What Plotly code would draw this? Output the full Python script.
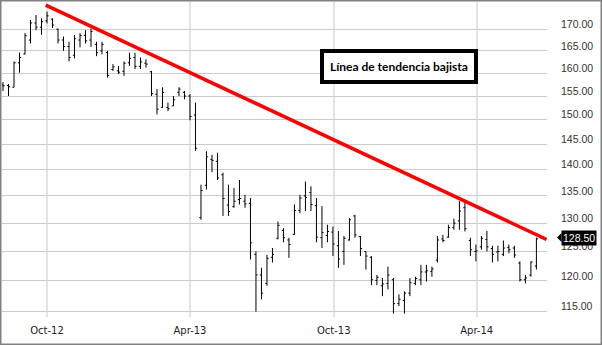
import numpy as np
import pandas as pd
import plotly.graph_objects as go

# Weekly bars (Mondays)
dates = pd.date_range("2012-08-06", periods=98, freq="7D")

opens = [157.4, 157.3, 156.9, 162.3, 164.3, 167.5, 171.5, 170.5, 172.0, 172.4,
         170.0, 167.5, 166.0, 164.0, 167.5, 168.6, 167.5, 166.5, 165.0, 164.6,
         160.8, 160.5, 160.4, 162.3, 163.5, 161.5, 162.2, 160.3, 155.4, 152.6,
         152.6, 152.9, 155.8, 155.8, 155.0, 151.0, 131.0, 137.0, 142.0, 141.6,
         139.0, 133.3, 133.0, 134.3, 134.0, 133.6, 124.5, 121.0, 119.6, 124.0,
         127.3, 128.7, 127.0, 128.0, 132.3, 135.0, 135.6, 133.2, 127.4, 127.8,
         128.4, 126.0, 125.0, 127.0, 131.3, 127.6, 125.0, 124.0, 120.1, 119.2,
         119.6, 120.2, 116.3, 116.8, 118.0, 119.6, 120.2, 121.5, 121.6, 123.5,
         127.2, 127.5, 129.2, 130.4, 132.8, 126.9, 125.0, 125.8, 127.1, 125.5,
         124.9, 124.5, 125.7, 125.6, 123.0, 120.2, 121.0, 122.5]
highs = [158.0, 157.6, 162.6, 164.6, 169.1, 172.2, 173.4, 172.6, 174.2, 172.6,
         170.2, 168.3, 167.1, 168.7, 169.1, 169.8, 170.2, 167.1, 167.1, 165.0,
         162.0, 161.6, 162.6, 164.6, 164.6, 163.5, 163.1, 160.5, 156.5, 156.9,
         153.6, 155.0, 156.9, 156.1, 155.4, 153.6, 137.1, 143.6, 142.9, 143.3,
         139.4, 137.1, 136.5, 138.0, 135.2, 134.6, 125.0, 122.2, 124.4, 125.6,
         130.3, 129.1, 127.4, 133.4, 135.2, 137.7, 136.8, 134.6, 133.1, 129.7,
         129.4, 128.6, 127.7, 130.9, 131.5, 127.7, 125.0, 124.2, 121.0, 120.5,
         122.4, 120.5, 117.8, 118.3, 120.5, 120.7, 122.7, 122.7, 122.4, 127.7,
         127.9, 129.7, 130.8, 134.0, 133.7, 127.4, 126.2, 127.7, 128.6, 126.0,
         126.0, 126.9, 126.2, 126.0, 123.3, 121.0, 123.3, 127.4]
lows = [156.1, 155.0, 156.9, 160.1, 164.2, 166.7, 169.8, 168.7, 171.4, 170.3,
        166.7, 165.0, 162.6, 163.3, 165.8, 166.7, 165.9, 163.8, 164.2, 159.0,
        160.5, 159.8, 159.4, 161.6, 160.9, 160.9, 161.2, 155.0, 151.1, 152.5,
        151.8, 152.9, 155.0, 154.3, 149.9, 143.7, 130.6, 136.2, 139.5, 138.0,
        131.3, 131.3, 132.8, 133.4, 132.8, 123.6, 115.0, 117.0, 119.2, 123.1,
        127.1, 126.6, 123.9, 127.9, 131.8, 132.2, 132.2, 126.6, 125.6, 126.6,
        124.2, 122.2, 122.7, 126.9, 127.4, 124.2, 121.9, 119.3, 119.3, 117.5,
        118.6, 114.7, 115.9, 114.7, 117.5, 119.3, 119.3, 119.9, 120.7, 123.1,
        126.6, 127.4, 128.8, 128.8, 128.5, 124.2, 123.3, 125.3, 125.0, 123.1,
        123.3, 124.2, 124.7, 123.9, 119.9, 119.6, 120.7, 121.9]
closes = [157.2, 157.0, 162.3, 163.5, 168.5, 171.5, 170.5, 171.8, 173.2, 171.0,
          167.5, 166.0, 163.5, 167.8, 168.5, 167.3, 169.5, 164.6, 166.5, 159.5,
          161.4, 160.2, 162.2, 163.3, 161.5, 162.5, 162.0, 155.5, 152.2, 155.8,
          152.3, 154.2, 156.5, 155.0, 150.7, 144.2, 136.0, 142.5, 141.8, 138.4,
          134.5, 132.1, 134.0, 134.5, 133.5, 126.5, 121.0, 118.0, 123.8, 124.5,
          129.6, 127.4, 126.2, 132.3, 134.6, 134.7, 133.4, 127.5, 128.3, 128.5,
          126.3, 123.7, 127.3, 130.6, 127.9, 125.5, 124.2, 120.2, 120.6, 119.5,
          121.0, 116.3, 117.0, 118.0, 119.7, 120.4, 121.5, 121.7, 122.0, 127.0,
          126.9, 129.2, 130.0, 132.2, 129.0, 125.3, 125.1, 127.3, 125.8, 124.5,
          125.0, 125.6, 125.3, 124.4, 120.2, 120.5, 123.2, 127.2]

trend_dates = ["2012-09-29 08:00", "2014-06-29 00:00"]
trend_values = [175.8, 127.1]

y_ticks = [115, 120, 125, 130, 135, 140, 145, 150, 155, 160, 165, 170]
x_ticks = ["2012-10-01", "2013-04-01", "2013-10-01", "2014-04-01"]
x_labels = ["Oct-12", "Apr-13", "Oct-13", "Apr-14"]
last_label = 128.50
note_text = "Línea de tendencia bajista"

fig = go.Figure()
fig.add_trace(go.Ohlc(
    x=dates, open=opens, high=highs, low=lows, close=closes,
    increasing=dict(line=dict(color="black", width=1)),
    decreasing=dict(line=dict(color="black", width=1)),
    tickwidth=0.3, showlegend=False, hoverinfo="skip",
))
fig.add_trace(go.Scatter(
    x=trend_dates, y=trend_values, mode="lines",
    line=dict(color="#ff0000", width=3.6), showlegend=False, hoverinfo="skip",
))

W, H = 602, 345
ml, mr, mt, mb = 2, 55, 2, 28
pw, ph = W - ml - mr, H - mt - mb

def px(xp):
    return (xp - ml) / pw

def py(yp):
    return (H - mb - yp) / ph

fig.update_layout(
    width=W, height=H,
    margin=dict(l=ml, r=mr, t=mt, b=mb, pad=0),
    paper_bgcolor="white", plot_bgcolor="white",
    showlegend=False,
    xaxis=dict(
        type="date", range=["2012-08-04 17:00", "2014-06-29 12:00"],
        rangeslider=dict(visible=False),
        tickvals=x_ticks, ticktext=x_labels,
        showgrid=True, gridcolor="#e4e4e4", gridwidth=2,
        showline=False, zeroline=False, ticks="",
        tickfont=dict(family="DejaVu Sans", size=10, color="#222222"),
        ticklabelstandoff=6,
    ),
    yaxis=dict(
        type="log", side="right",
        range=[np.log10(114.16), np.log10(176.55)],
        tickvals=y_ticks, tickformat=".2f",
        showgrid=True, gridcolor="#cccccc", gridwidth=1,
        showline=False, zeroline=False, ticks="",
        tickfont=dict(family="Liberation Sans", size=10.5, color="#333333"),
        ticklabelstandoff=13, ticklabelshift=-5,
    ),
)

# note box
fig.add_annotation(
    xref="paper", yref="paper", x=px(398.7), y=py(66.3),
    text="<b>" + note_text + "</b>", showarrow=False,
    font=dict(family="Lato", size=12, color="black"),
    bgcolor="white", bordercolor="black", borderwidth=4, borderpad=6,
    xanchor="center", yanchor="middle",
)

# last price label
fig.add_annotation(
    xref="paper", yref="y", x=px(561), y=np.log10(last_label), yshift=-6,
    text=f"{last_label:.2f}", showarrow=False,
    font=dict(family="Liberation Sans", size=10.5, color="white"),
    bgcolor="black", borderpad=1, xanchor="left", yanchor="middle",
)
cy = 237.5
fig.add_shape(
    type="path", xref="paper", yref="paper",
    path=f"M {px(557)} {py(cy)} L {px(561.5)} {py(cy-4.6)} L {px(561.5)} {py(cy+4.6)} Z",
    fillcolor="black", line=dict(width=0),
)

# outer frame
fig.add_shape(
    type="rect", xref="paper", yref="paper",
    x0=px(0.75), x1=px(601.25), y0=py(344.25), y1=py(0.75),
    line=dict(color="#808080", width=1.5), fillcolor="rgba(0,0,0,0)", layer="above",
)

fig.write_html("out.html")
